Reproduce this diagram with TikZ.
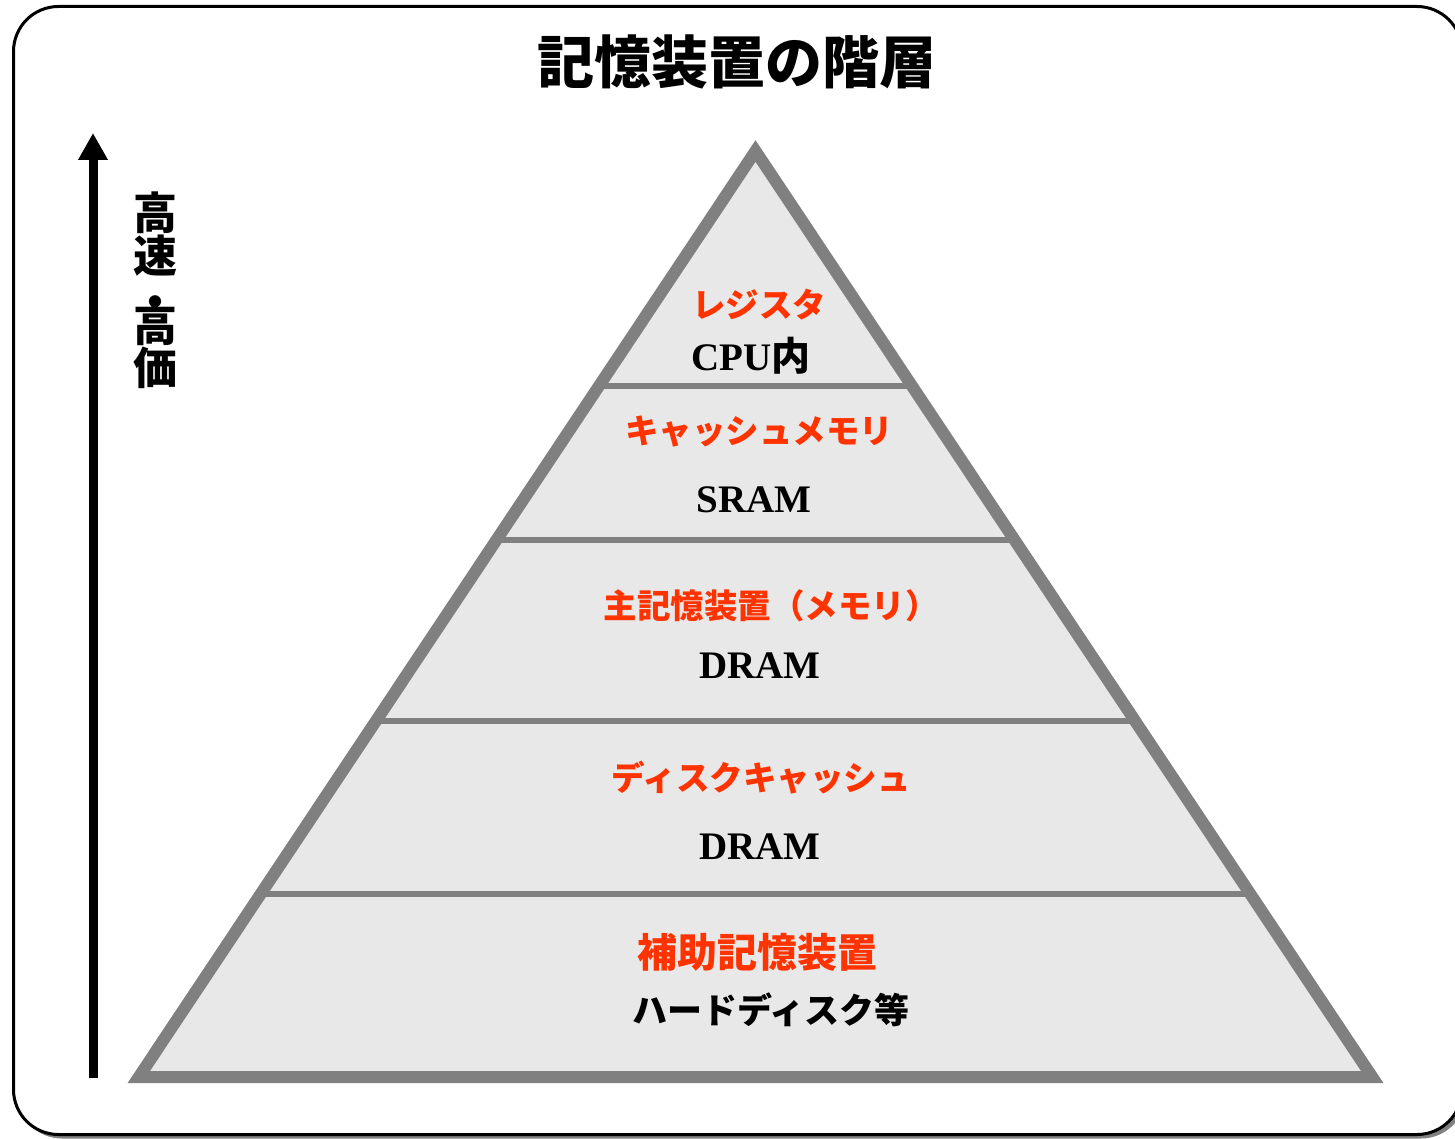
\documentclass[tikz,border=0pt]{standalone}
\usepackage{fontspec}
\setmainfont{Liberation Serif}
\newfontfamily\jp{Noto Sans CJK JP}
\usetikzlibrary{arrows.meta,calc}
\definecolor{jred}{RGB}{255,51,0}
\definecolor{pyfill}{RGB}{232,232,232}
\definecolor{pyline}{RGB}{128,128,128}
\begin{document}
\begin{tikzpicture}[x=1pt,y=-1pt,
  redtxt/.style={font=\jp\bfseries\fontsize{33.5}{40}\selectfont, text=jred, inner sep=0pt},
  engtxt/.style={font=\bfseries\fontsize{39}{44}\selectfont, text=black, inner sep=0pt},
  vtxt/.style={font=\jp\bfseries\fontsize{44}{41}\selectfont, inner sep=0pt, align=center},
  divider/.style={draw=pyline, line width=6pt},
  frame/.style={draw=black, line width=3pt, fill=white, rounded corners=45pt}]
\useasboundingbox (0,0) rectangle (1455,1139);
% frame with shadow
\fill[pyline, rounded corners=45pt] (17,10) rectangle (1466,1138.5);
\path[frame] (13.5,6.5) rectangle (1462,1134.5);
% title
\node[font=\jp\bfseries\fontsize{57}{62}\selectfont, inner sep=0pt] (title) at (737,62) {記憶装置の階層};
% arrow
\coordinate (arrB) at (93,1078);
\coordinate (arrT) at (93,133);
\draw[line width=9pt, -{Triangle[length=27pt,width=28pt]}] (arrB) -- (arrT);
% vertical label
\node[vtxt] (vlab) at (155,290) {高\\速\\[5pt]・\\[-18pt]高\\価};
% pyramid
\coordinate (A) at (755.5,151);
\coordinate (L) at (138.8,1077);
\coordinate (R) at (1372.2,1077);
\fill[pyfill] (A) -- (R) -- (L) -- cycle;
\foreach \t/\n in {0.2538/a,0.4201/b,0.6156/c,0.8024/d}{
  \coordinate (dl\n) at ($(A)!\t!(L)$);
  \coordinate (dr\n) at ($(A)!\t!(R)$);
  \draw[divider] (dl\n) -- (dr\n);
}
\draw[pyline, line width=12pt, line join=miter] (A) -- (R) -- (L) -- cycle;
% texts
\node[redtxt] (t1) at (759,305) {レジスタ};
\node[engtxt, anchor=base] (e1) at (751,370) {CPU{\jp\bfseries 内}};
\node[redtxt] (t2) at (759,432) {キャッシュメモリ};
\node[engtxt] (e2) at (754,500) {SRAM};
\node[redtxt] (t3) at (771,606) {主記憶装置（メモリ）};
\node[engtxt] (e3) at (760,666) {DRAM};
\node[redtxt] (t4) at (761,778) {ディスクキャッシュ};
\node[engtxt] (e4) at (760,847) {DRAM};
\node[redtxt, font=\jp\bfseries\fontsize{40}{46}\selectfont] (t5) at (757,952) {補助記憶装置};
\node[font=\jp\bfseries\fontsize{35}{40}\selectfont, inner sep=0pt] (e5) at (771,1010) {ハードディスク等};
\end{tikzpicture}
\end{document}
